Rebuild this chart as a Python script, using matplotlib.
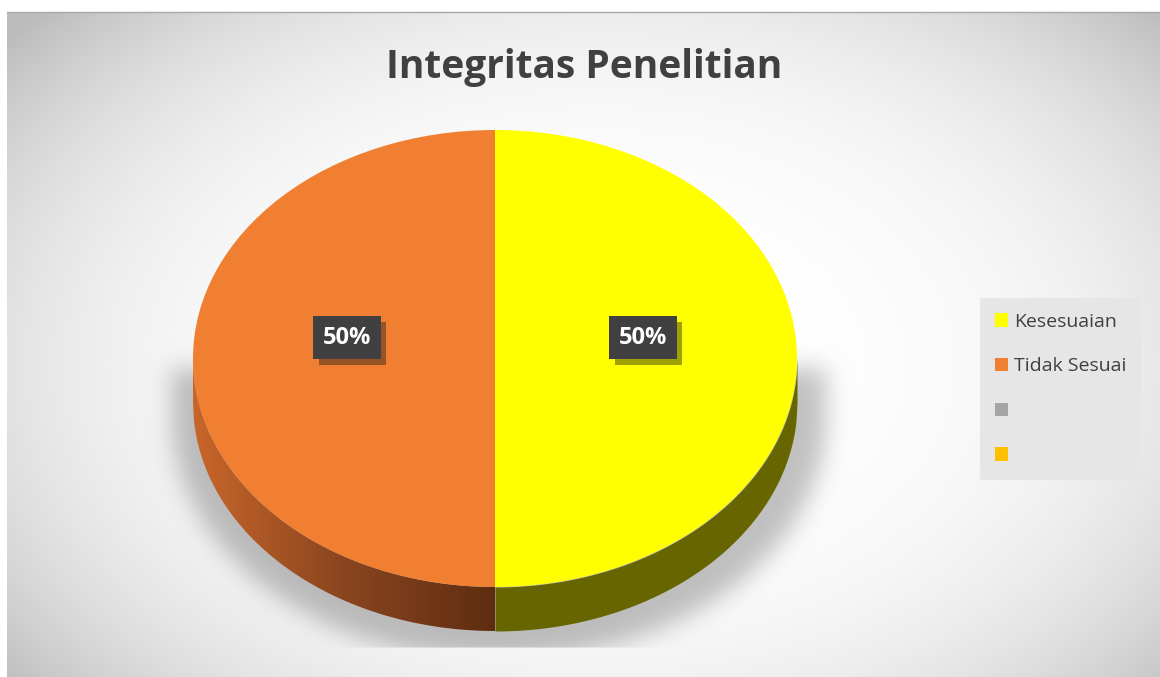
import numpy as np
import matplotlib
matplotlib.use('Agg')
import matplotlib.pyplot as plt
from matplotlib import patheffects as pe
from matplotlib.colors import LinearSegmentedColormap

title = 'Integritas Penelitian'
categories = ['Kesesuaian', 'Tidak Sesuai', '', '']
values = [50, 50, 0, 0]
colors = ['#FFFF00', '#F07F32', '#A5A5A5', '#FFC000']

W, H = 1160, 677
fig = plt.figure(figsize=(W / 100, H / 100), dpi=100)

# pixel geometry of the pie (top face ellipse + depth)
cx, cy, rx, ry, depth = 495, 358.5, 302, 228.5, 44

# background: radial grey gradient + soft shadow under the pie
bg = fig.add_axes([0, 0, 1, 1])
bg.set_xlim(0, W)
bg.set_ylim(H, 0)
bg.axis('off')
yy, xx = np.mgrid[0:H, 0:W] + 0.5
r = np.sqrt(((xx - 600) / 620) ** 2 + ((yy - 360) / 420) ** 2)
shade = np.clip(1 - 0.126 * r ** 3.3, 0.74, 1)

# shadow mask: pie silhouette pushed down, blurred, cut at plot-area bottom
ex = (xx - cx) / (rx * 1.09)
top = cy + 5
inside = (np.abs(ex) <= 1) & (yy >= top) & (yy <= cy + 10 + depth + ry * np.sqrt(np.clip(1 - ex ** 2, 0, 1)) * 1.08)
mask = inside.astype(float)
k = np.exp(-0.5 * (np.arange(-40, 41) / 12.0) ** 2)
k /= k.sum()
mask = np.apply_along_axis(lambda m: np.convolve(m, k, mode='same'), 0, mask)
mask = np.apply_along_axis(lambda m: np.convolve(m, k, mode='same'), 1, mask)
mask[yy > 647] = 0
shade = shade * (1 - 0.24 * mask)
img = np.dstack([shade] * 3)
bg.imshow(img, extent=(7, W, H, 12), origin='upper', aspect='auto', zorder=0)
bg.plot([7, W], [12, 12], color='#A8A8A8', lw=1, zorder=1)

# pie axes: one data unit = rx px horizontally, ry px vertically
ax = fig.add_axes([0, 0, 1, 1])
ax.patch.set_alpha(0)


def pct(p):
    return '{:.0f}%'.format(p) if p > 0 else ''


wedges, texts, autotexts = ax.pie(values, colors=colors, startangle=90, counterclock=False,
                                  radius=1, autopct=pct, pctdistance=0.49,
                                  wedgeprops=dict(linewidth=0, zorder=3))
ax.set_aspect('auto')
ax.axis('off')

# side walls of the 3d pie
d = depth / ry
xs = np.linspace(-1, 1, 601)
edge = -np.sqrt(np.clip(1 - xs ** 2, 0, 1))
right = xs >= 0
ax.fill_between(xs[right], edge[right] - d, edge[right], color='#676500', lw=0, zorder=1)
left = xs <= 0
wall = ax.fill_between(xs[left], edge[left] - d, edge[left], color='none', lw=0, zorder=1)
grad = np.linspace(0, 1, 256)[None, :]
cmap = LinearSegmentedColormap.from_list('wall', ['#C8662A', '#8A4520', '#5E2D10'])
gi = ax.imshow(grad, extent=(-1, 0, -1 - d, 0), cmap=cmap, aspect='auto', zorder=1)
gi.set_clip_path(wall.get_paths()[0], ax.transData)
ax.set_xlim((0 - cx) / rx, (W - cx) / rx)
ax.set_ylim((cy - H) / ry, cy / ry)

# percentage labels on dark boxes
for t in autotexts:
    x0, y0 = t.get_position()
    t.set_position((x0, y0 + 0.09))
    t.set_color('white')
    t.set_fontsize(17)
    t.set_fontweight('bold')
    t.set_family(['Open Sans', 'DejaVu Sans'])
    t.set_zorder(5)
    t.set_bbox(dict(boxstyle='square,pad=0.4', fc='#404040', ec='none'))
    t.get_bbox_patch().set_path_effects([pe.SimplePatchShadow(offset=(4, -4), alpha=0.4), pe.Normal()])

fig.text(584 / W, 1 - 78 / H, title, ha='center', va='baseline', fontsize=28, fontweight='bold',
         color='#404040', family=['Open Sans', 'DejaVu Sans'])

leg = fig.legend(wedges, categories, loc='upper left', bbox_to_anchor=(980 / W, 1 - 298 / H),
                 frameon=True, fancybox=False, framealpha=1, facecolor='#E6E6E6', edgecolor='none',
                 prop=dict(family=['Open Sans', 'DejaVu Sans'], size=14),
                 handlelength=0.7, handleheight=0.7, handletextpad=0.3, labelspacing=1.38,
                 borderpad=0.75, borderaxespad=0)
for t in leg.get_texts():
    t.set_color('#404040')

fig.savefig('out.png', dpi=100)
